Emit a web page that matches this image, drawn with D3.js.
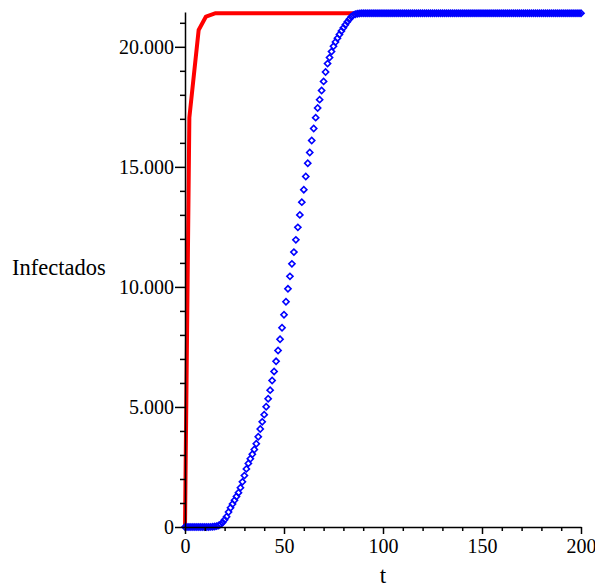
<!DOCTYPE html>
<html>
<head>
<meta charset="utf-8">
<script src="https://cdn.jsdelivr.net/npm/d3@7"></script>
<style>
  body { margin: 0; background: #fff; }
  svg text { font-family: "Liberation Serif", "Times New Roman", serif; fill: #000; }
</style>
</head>
<body>
<div id="chart"></div>
<script>
/* Data */
// red curve (solid line), t and infectados
const redT = [0, 2.2, 6.9, 10.6, 15.5, 200];
const redValues = [0, 17050, 20700, 21260, 21400, 21400];

// blue diamonds, one per t = 0, 1, 2, ... 200
const blueValues = [
    0, 0, 0, 0, 0, 0, 0, 0, 0, 0,
    0, 0, 0, 5, 10, 20, 35, 60, 110, 190,
    300, 430, 620, 800, 960, 1110, 1270, 1430, 1640, 1880,
    2140, 2420, 2650, 2840, 3030, 3230, 3470, 3760, 4080, 4380,
    4680, 5010, 5340, 5700, 6100, 6480, 6900, 7350, 7820, 8300,
    8840, 9380, 9920, 10440, 10960, 11450, 11960, 12480, 13000, 13530,
    14050, 14600, 15150, 15600, 16100, 16600, 17050, 17450, 17800, 18180,
    18560, 18950, 19300, 19550, 19800, 20020, 20200, 20360, 20510, 20660,
    20790, 20920, 21040, 21150, 21250, 21320, 21360, 21380, 21390, 21400,
    21400, 21400, 21400, 21400, 21400, 21400, 21400, 21400, 21400, 21400,
    21400, 21400, 21400, 21400, 21400, 21400, 21400, 21400, 21400, 21400,
    21400, 21400, 21400, 21400, 21400, 21400, 21400, 21400, 21400, 21400,
    21400, 21400, 21400, 21400, 21400, 21400, 21400, 21400, 21400, 21400,
    21400, 21400, 21400, 21400, 21400, 21400, 21400, 21400, 21400, 21400,
    21400, 21400, 21400, 21400, 21400, 21400, 21400, 21400, 21400, 21400,
    21400, 21400, 21400, 21400, 21400, 21400, 21400, 21400, 21400, 21400,
    21400, 21400, 21400, 21400, 21400, 21400, 21400, 21400, 21400, 21400,
    21400, 21400, 21400, 21400, 21400, 21400, 21400, 21400, 21400, 21400,
    21400, 21400, 21400, 21400, 21400, 21400, 21400, 21400, 21400, 21400,
    21400, 21400, 21400, 21400, 21400, 21400, 21400, 21400, 21400, 21400,
    21400
];

// ticks
const xTicks = [0, 50, 100, 150, 200];
const xMinorTicks = [10, 20, 30, 40, 60, 70, 80, 90, 110, 120, 130, 140, 160, 170, 180, 190];
const yTicks = [0, 5000, 10000, 15000, 20000];
const yMinorTicks = [1000, 2000, 3000, 4000, 6000, 7000, 8000, 9000, 11000, 12000, 13000, 14000,
                     16000, 17000, 18000, 19000, 21000];

/* Layout */
const width = 595;
const height = 588;

const svg = d3.select("#chart").append("svg")
    .attr("width", width)
    .attr("height", height);

const xScale = d3.scaleLinear().domain([0, 200]).range([185, 581]);
const yScale = d3.scaleLinear().domain([0, 21450]).range([527, 12]);

// "20.000" style labels
const locale = d3.formatLocale({decimal: ",", thousands: ".", grouping: [3], currency: ["", ""]});
const fmt = locale.format(",d");

// Red line
const line = d3.line()
    .x((d, i) => xScale(redT[i]))
    .y(d => yScale(d));

svg.append("path")
    .datum(redValues)
    .attr("fill", "none")
    .attr("stroke", "#ff0000")
    .attr("stroke-width", 4)
    .attr("stroke-linejoin", "round")
    .attr("d", line);

// Blue diamonds
const diamond = d3.symbol().type(d3.symbolSquare).size(19);
svg.append("g")
    .selectAll("path")
    .data(blueValues)
    .enter()
    .append("path")
    .attr("d", diamond)
    .attr("transform", (d, i) => `translate(${xScale(i)},${yScale(d)}) rotate(45)`)
    .attr("fill", "none")
    .attr("stroke", "#0000ff")
    .attr("stroke-width", 1.6);

// Axes
const xAxis = svg.append("g")
    .attr("transform", `translate(0, ${yScale(0)})`)
    .call(d3.axisBottom(xScale).tickValues(xTicks).tickSize(7).tickSizeOuter(0).tickFormat(d3.format("d")));
svg.append("g")
    .attr("transform", `translate(0, ${yScale(0)})`)
    .call(d3.axisBottom(xScale).tickValues(xMinorTicks).tickSize(4).tickSizeOuter(0).tickFormat(""))
    .select(".domain").remove();

const yAxis = svg.append("g")
    .attr("transform", `translate(${xScale(0)}, 0)`)
    .call(d3.axisLeft(yScale).tickValues(yTicks).tickSize(10).tickSizeOuter(0).tickFormat(fmt));
svg.append("g")
    .attr("transform", `translate(${xScale(0)}, 0)`)
    .call(d3.axisLeft(yScale).tickValues(yMinorTicks).tickSize(5).tickSizeOuter(0).tickFormat(""))
    .select(".domain").remove();

svg.selectAll(".domain, .tick line")
    .attr("stroke", "#000")
    .attr("stroke-width", 1.5);

xAxis.selectAll("text")
    .style("font-size", "20px")
    .attr("y", 12)
    .attr("dy", "0.71em");
yAxis.selectAll("text")
    .style("font-size", "20px")
    .attr("x", -11)
    .attr("dy", "0.32em");

// Axis titles
svg.append("text")
    .attr("x", (xScale(0) + xScale(200)) / 2)
    .attr("y", 583)
    .attr("text-anchor", "middle")
    .style("font-size", "23px")
    .text("t");

svg.append("text")
    .attr("x", 12)
    .attr("y", 275)
    .style("font-size", "22.5px")
    .text("Infectados");
</script>
</body>
</html>
